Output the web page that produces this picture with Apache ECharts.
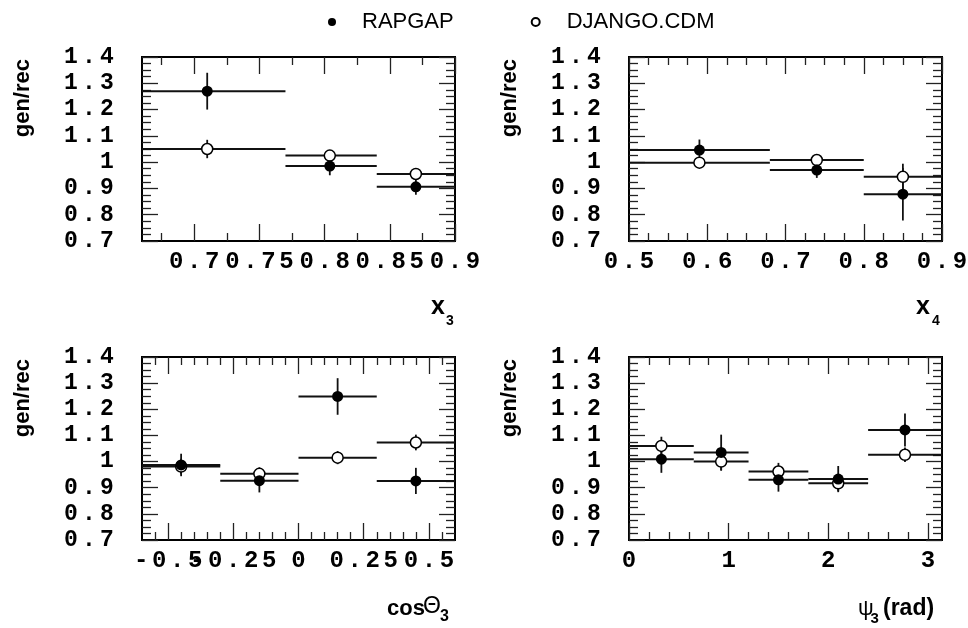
<!DOCTYPE html>
<html>
<head>
<meta charset="utf-8">
<script src="https://cdn.jsdelivr.net/npm/echarts@6/dist/echarts.min.js"></script>
<style>
html,body{margin:0;padding:0;background:#fff;}
#chart{width:968px;height:628px;}
</style>
</head>
<body>
<div id="chart"></div>
<script>
// ---------- Data ----------
// Panel 1: x3
const x3BinLow   = [0.66, 0.77, 0.84];
const x3BinHigh  = [0.77, 0.84, 0.90];
const x3Center   = [0.71, 0.804, 0.87];
const x3Rapgap   = [1.27, 0.985, 0.906];
const x3RapgapErr= [0.07, 0.035, 0.03];
const x3Django   = [1.05, 1.025, 0.955];
const x3DjangoErr= [0.035, 0.015, 0.012];
const x3Ticks    = [0.7, 0.75, 0.8, 0.85, 0.9];

// Panel 2: x4
const x4BinLow   = [0.5, 0.68, 0.8];
const x4BinHigh  = [0.68, 0.8, 0.9];
const x4Center   = [0.59, 0.74, 0.85];
const x4Rapgap   = [1.046, 0.97, 0.878];
const x4RapgapErr= [0.04, 0.03, 0.1];
const x4Django   = [0.998, 1.008, 0.944];
const x4DjangoErr= [0.012, 0.012, 0.05];
const x4Ticks    = [0.5, 0.6, 0.7, 0.8, 0.9];

// Panel 3: cos(theta3)
const cosBinLow   = [-0.6, -0.3, 0, 0.3];
const cosBinHigh  = [-0.3, 0, 0.3, 0.6];
const cosCenter   = [-0.45, -0.15, 0.15, 0.45];
const cosRapgap   = [0.987, 0.927, 1.249, 0.926];
const cosRapgapErr= [0.043, 0.045, 0.07, 0.05];
const cosDjango   = [0.981, 0.953, 1.015, 1.073];
const cosDjangoErr= [0.03, 0.025, 0.025, 0.03];
const cosTicks    = [-0.5, -0.25, 0, 0.25, 0.5];

// Panel 4: psi3
const psiBinLow   = [0, 0.65, 1.2, 1.8, 2.4];
const psiBinHigh  = [0.65, 1.2, 1.8, 2.4, 3.1416];
const psiCenter   = [0.325, 0.925, 1.5, 2.1, 2.77];
const psiRapgap   = [1.009, 1.035, 0.93, 0.933, 1.121];
const psiRapgapErr= [0.052, 0.068, 0.045, 0.05, 0.063];
const psiDjango   = [1.06, 1.0, 0.962, 0.917, 1.026];
const psiDjangoErr= [0.035, 0.035, 0.033, 0.03, 0.028];
const psiTicks    = [0, 1, 2, 3];

const yTitle = 'gen/rec';
const seriesNames = ['RAPGAP', 'DJANGO.CDM'];

// ---------- Layout ----------
const panels = [
  {grid:{left:142, top:57, width:313, height:184}, min:0.66, max:0.9, ticks:x3Ticks, minorStep:0.025,
   lo:x3BinLow, hi:x3BinHigh, c:x3Center, r:x3Rapgap, re:x3RapgapErr, d:x3Django, de:x3DjangoErr},
  {grid:{left:629, top:57, width:313, height:184}, min:0.5, max:0.9, ticks:x4Ticks, minorStep:0.025,
   lo:x4BinLow, hi:x4BinHigh, c:x4Center, r:x4Rapgap, re:x4RapgapErr, d:x4Django, de:x4DjangoErr},
  {grid:{left:142, top:357, width:313, height:183}, min:-0.6, max:0.6, ticks:cosTicks, minorStep:0.05,
   lo:cosBinLow, hi:cosBinHigh, c:cosCenter, r:cosRapgap, re:cosRapgapErr, d:cosDjango, de:cosDjangoErr},
  {grid:{left:629, top:357, width:313, height:183}, min:0, max:Math.PI, ticks:psiTicks, minorStep:0.2,
   lo:psiBinLow, hi:psiBinHigh, c:psiCenter, r:psiRapgap, re:psiRapgapErr, d:psiDjango, de:psiDjangoErr}
];

function minorValues(min, max, step, majors) {
  const out = [];
  let k = Math.ceil(min / step - 1e-9);
  for (; k * step <= max + 1e-9; k++) {
    const v = +(k * step).toFixed(6);
    if (v <= min + 1e-9 || v >= max - 1e-9) continue;
    if (majors.some(m => Math.abs(m - v) < 1e-6)) continue;
    out.push(v);
  }
  return out;
}
function charLabel(v) {
  const s = String(+(+v).toFixed(4));
  return s.split('').map(ch => '{c|' + ch + '}').join('');
}
const tickStyle = {color:'#222', width:1.3};
const richX = {c:{width:18, align:'center', fontFamily:'Liberation Mono', fontWeight:'bold', fontSize:24, color:'#000'}};
const richY = {c:{width:18, align:'center', fontFamily:'Liberation Mono', fontWeight:'bold', fontSize:23, color:'#000'}};

const grids = [], xAxes = [], yAxes = [], series = [];
const noLine = {show:false, onZero:false};

panels.forEach((p, g) => {
  grids.push(Object.assign({show:true, borderColor:'#000', borderWidth:2, backgroundColor:'transparent', outerBoundsMode:'none', containLabel:false}, p.grid));
  const minors = minorValues(p.min, p.max, p.minorStep, p.ticks);
  const baseX = {gridIndex:g, type:'value', min:p.min, max:p.max, axisLine:noLine, splitLine:{show:false}, minorTick:{show:false}};
  const evenTicks = p.ticks.filter((t, i) => i % 2 === 0);
  const oddTicks = p.ticks.filter((t, i) => i % 2 === 1);
  const mainX = xAxes.length;
  // major ticks + even labels
  xAxes.push(Object.assign({}, baseX, {position:'bottom',
    axisTick:{show:true, inside:true, length:17, customValues:p.ticks, lineStyle:tickStyle},
    axisLabel:{show:true, customValues:evenTicks, margin:9, formatter:charLabel, rich:richX, showMinLabel:true, showMaxLabel:true, hideOverlap:false}}));
  // odd labels (separate axis so overlapping labels are all kept, as in the reference)
  xAxes.push(Object.assign({}, baseX, {position:'bottom',
    axisTick:{show:false},
    axisLabel:{show:oddTicks.length > 0, customValues:oddTicks, margin:9, formatter:charLabel, rich:richX, showMinLabel:true, showMaxLabel:true, hideOverlap:false}}));
  xAxes.push(Object.assign({}, baseX, {position:'bottom',
    axisTick:{show:true, inside:true, length:8, customValues:minors, lineStyle:tickStyle}, axisLabel:{show:false}}));
  xAxes.push(Object.assign({}, baseX, {position:'top',
    axisTick:{show:true, inside:true, length:17, customValues:p.ticks, lineStyle:tickStyle}, axisLabel:{show:false}}));
  xAxes.push(Object.assign({}, baseX, {position:'top',
    axisTick:{show:true, inside:true, length:8, customValues:minors, lineStyle:tickStyle}, axisLabel:{show:false}}));
  const baseY = {gridIndex:g, type:'value', min:0.7, max:1.4, interval:0.1, axisLine:noLine, splitLine:{show:false},
    axisTick:{show:true, inside:true, length:16, lineStyle:tickStyle},
    minorTick:{show:true, splitNumber:4, length:9, lineStyle:tickStyle}};
  const mainY = yAxes.length;
  yAxes.push(Object.assign({}, baseY, {position:'left', axisLabel:{show:true, margin:26, formatter:charLabel, rich:richY, showMinLabel:true, showMaxLabel:true}}));
  yAxes.push(Object.assign({}, baseY, {position:'right', axisLabel:{show:false}}));

  const mk = (vals, errs) => p.c.map((x, i) => [x, vals[i], p.lo[i], p.hi[i], errs[i]]);
  const errRender = (params, api) => {
    const xc = api.value(0), y = api.value(1), xl = api.value(2), xh = api.value(3), e = api.value(4);
    const a = api.coord([xl, y]), b = api.coord([xh, y]);
    const c = api.coord([xc, y - e]), d = api.coord([xc, y + e]);
    return {type:'group', children:[
      {type:'line', shape:{x1:a[0], y1:a[1], x2:b[0], y2:b[1]}, style:{stroke:'#111', lineWidth:2}},
      {type:'line', shape:{x1:c[0], y1:c[1], x2:d[0], y2:d[1]}, style:{stroke:'#111', lineWidth:1.8}}
    ]};
  };
  [[p.d, p.de], [p.r, p.re]].forEach(([v, e]) => {
    series.push({type:'custom', xAxisIndex:mainX, yAxisIndex:mainY, data:mk(v, e), renderItem:errRender,
      encode:{x:[0,2,3], y:[1]}, silent:true, z:2, clip:false});
  });
  series.push({type:'scatter', name:seriesNames[1], xAxisIndex:mainX, yAxisIndex:mainY,
    data:p.c.map((x, i) => [x, p.d[i]]), symbol:'circle', symbolSize:11,
    itemStyle:{color:'#fff', borderColor:'#000', borderWidth:1.5, opacity:1}, z:3, silent:true});
  series.push({type:'scatter', name:seriesNames[0], xAxisIndex:mainX, yAxisIndex:mainY,
    data:p.c.map((x, i) => [x, p.r[i]]), symbol:'circle', symbolSize:11,
    itemStyle:{color:'#000', borderColor:'#000', borderWidth:0, opacity:1}, z:4, silent:true});
});

const titleFont = 'Liberation Sans';
function txt(x, y, text, size, weight) {
  return {type:'text', x:x, y:y, silent:true,
    style:{text:text, fontFamily:titleFont, fontSize:size, fontWeight:weight || 'bold', fill:'#000', align:'left', verticalAlign:'middle'}};
}
function yTitleEl(x, y) {
  return {type:'text', x:x, y:y, rotation:Math.PI/2, silent:true,
    style:{text:yTitle, fontFamily:titleFont, fontSize:22, fontWeight:'bold', fill:'#000', align:'right', verticalAlign:'middle'}};
}
const graphics = [
  yTitleEl(23, 59), yTitleEl(510, 59), yTitleEl(23, 359), yTitleEl(510, 359),
  txt(431, 307, 'x', 25), txt(446, 321, '3', 14),
  txt(916, 307, 'x', 25), txt(932, 321, '4', 14),
  txt(387, 609, 'cos', 22), txt(423, 607, 'Θ', 23, 'normal'), txt(440, 617, '3', 16),
  txt(858, 609, 'ψ', 22, 'normal'), txt(870.5, 619, '3', 15), txt(883, 609, '(rad)', 23)
];

const chart = echarts.init(document.getElementById('chart'), null, {renderer:'canvas'});
chart.setOption({
  animation:false,
  backgroundColor:'#fff',
  legend:{data:[
      {name:seriesNames[0], textStyle:{padding:[0,0,0,21]}},
      {name:seriesNames[1], textStyle:{padding:[0,0,0,22]}}
    ], left:323, top:6, itemWidth:8, itemHeight:8, itemGap:77, icon:'circle',
    textStyle:{fontFamily:titleFont, fontSize:22, color:'#000'}, selectedMode:false},
  grid:grids, xAxis:xAxes, yAxis:yAxes, series:series, graphic:graphics
});
</script>
</body>
</html>
